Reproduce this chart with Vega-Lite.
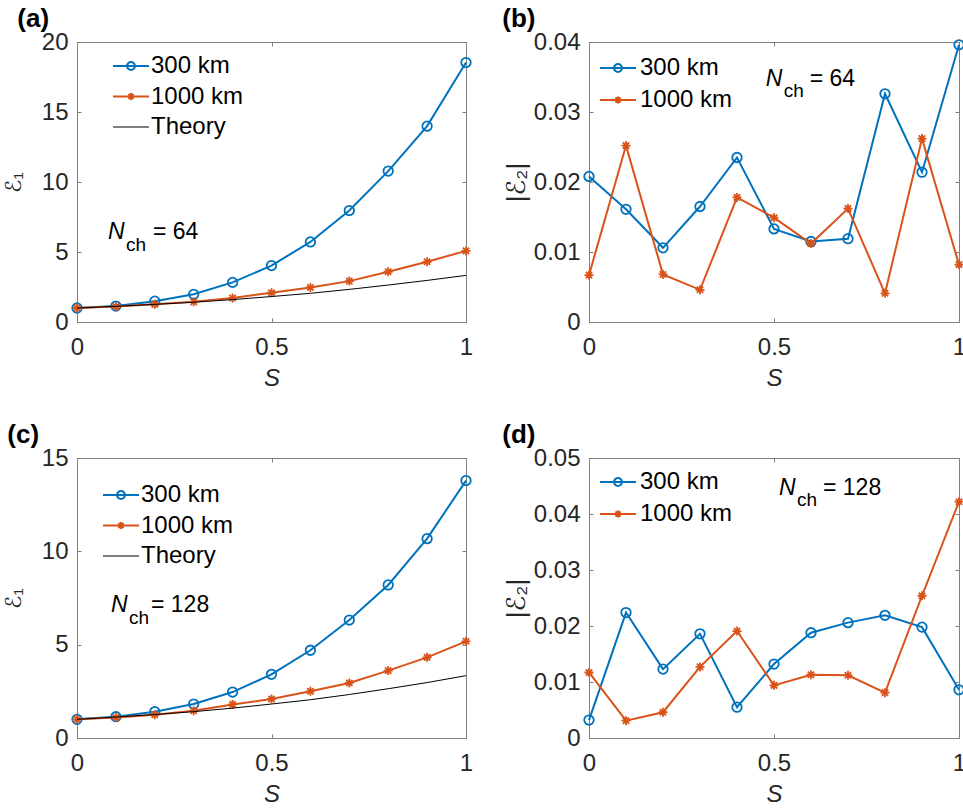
{
  "$schema": "https://vega.github.io/schema/vega-lite/v6.json",
  "padding": {"left": 2, "top": 6, "right": 0, "bottom": 0},
  "background": "white",
  "datasets": {
    "a": [
      {"S": 0, "v": 1.0, "s": "300 km"}, {"S": 0.1, "v": 1.14, "s": "300 km"}, {"S": 0.2, "v": 1.49, "s": "300 km"}, {"S": 0.3, "v": 1.98, "s": "300 km"}, {"S": 0.4, "v": 2.83, "s": "300 km"}, {"S": 0.5, "v": 4.03, "s": "300 km"}, {"S": 0.6, "v": 5.72, "s": "300 km"}, {"S": 0.7, "v": 7.96, "s": "300 km"}, {"S": 0.8, "v": 10.78, "s": "300 km"}, {"S": 0.9, "v": 13.99, "s": "300 km"}, {"S": 1.0, "v": 18.53, "s": "300 km"},
      {"S": 0, "v": 1.0, "s": "1000 km"}, {"S": 0.1, "v": 1.1, "s": "1000 km"}, {"S": 0.2, "v": 1.26, "s": "1000 km"}, {"S": 0.3, "v": 1.44, "s": "1000 km"}, {"S": 0.4, "v": 1.72, "s": "1000 km"}, {"S": 0.5, "v": 2.09, "s": "1000 km"}, {"S": 0.6, "v": 2.47, "s": "1000 km"}, {"S": 0.7, "v": 2.92, "s": "1000 km"}, {"S": 0.8, "v": 3.59, "s": "1000 km"}, {"S": 0.9, "v": 4.3, "s": "1000 km"}, {"S": 1.0, "v": 5.08, "s": "1000 km"},
      {"S": 0, "v": 1.0, "s": "Theory"}, {"S": 0.1, "v": 1.12, "s": "Theory"}, {"S": 0.2, "v": 1.26, "s": "Theory"}, {"S": 0.3, "v": 1.41, "s": "Theory"}, {"S": 0.4, "v": 1.6, "s": "Theory"}, {"S": 0.5, "v": 1.82, "s": "Theory"}, {"S": 0.6, "v": 2.05, "s": "Theory"}, {"S": 0.7, "v": 2.33, "s": "Theory"}, {"S": 0.8, "v": 2.64, "s": "Theory"}, {"S": 0.9, "v": 2.97, "s": "Theory"}, {"S": 1.0, "v": 3.33, "s": "Theory"}
    ],
    "b": [
      {"S": 0, "v": 0.0208, "s": "300 km"}, {"S": 0.1, "v": 0.0161, "s": "300 km"}, {"S": 0.2, "v": 0.0106, "s": "300 km"}, {"S": 0.3, "v": 0.0165, "s": "300 km"}, {"S": 0.4, "v": 0.0235, "s": "300 km"}, {"S": 0.5, "v": 0.0133, "s": "300 km"}, {"S": 0.6, "v": 0.0115, "s": "300 km"}, {"S": 0.7, "v": 0.0119, "s": "300 km"}, {"S": 0.8, "v": 0.0326, "s": "300 km"}, {"S": 0.9, "v": 0.0214, "s": "300 km"}, {"S": 1.0, "v": 0.0396, "s": "300 km"},
      {"S": 0, "v": 0.0067, "s": "1000 km"}, {"S": 0.1, "v": 0.0252, "s": "1000 km"}, {"S": 0.2, "v": 0.0068, "s": "1000 km"}, {"S": 0.3, "v": 0.0046, "s": "1000 km"}, {"S": 0.4, "v": 0.0178, "s": "1000 km"}, {"S": 0.5, "v": 0.0149, "s": "1000 km"}, {"S": 0.6, "v": 0.0112, "s": "1000 km"}, {"S": 0.7, "v": 0.0162, "s": "1000 km"}, {"S": 0.8, "v": 0.0041, "s": "1000 km"}, {"S": 0.9, "v": 0.0262, "s": "1000 km"}, {"S": 1.0, "v": 0.0082, "s": "1000 km"}
    ],
    "c": [
      {"S": 0, "v": 1.0, "s": "300 km"}, {"S": 0.1, "v": 1.14, "s": "300 km"}, {"S": 0.2, "v": 1.41, "s": "300 km"}, {"S": 0.3, "v": 1.82, "s": "300 km"}, {"S": 0.4, "v": 2.46, "s": "300 km"}, {"S": 0.5, "v": 3.41, "s": "300 km"}, {"S": 0.6, "v": 4.7, "s": "300 km"}, {"S": 0.7, "v": 6.32, "s": "300 km"}, {"S": 0.8, "v": 8.2, "s": "300 km"}, {"S": 0.9, "v": 10.68, "s": "300 km"}, {"S": 1.0, "v": 13.79, "s": "300 km"},
      {"S": 0, "v": 1.0, "s": "1000 km"}, {"S": 0.1, "v": 1.1, "s": "1000 km"}, {"S": 0.2, "v": 1.25, "s": "1000 km"}, {"S": 0.3, "v": 1.46, "s": "1000 km"}, {"S": 0.4, "v": 1.8, "s": "1000 km"}, {"S": 0.5, "v": 2.09, "s": "1000 km"}, {"S": 0.6, "v": 2.5, "s": "1000 km"}, {"S": 0.7, "v": 2.95, "s": "1000 km"}, {"S": 0.8, "v": 3.61, "s": "1000 km"}, {"S": 0.9, "v": 4.32, "s": "1000 km"}, {"S": 1.0, "v": 5.18, "s": "1000 km"},
      {"S": 0, "v": 1.0, "s": "Theory"}, {"S": 0.1, "v": 1.12, "s": "Theory"}, {"S": 0.2, "v": 1.26, "s": "Theory"}, {"S": 0.3, "v": 1.41, "s": "Theory"}, {"S": 0.4, "v": 1.6, "s": "Theory"}, {"S": 0.5, "v": 1.82, "s": "Theory"}, {"S": 0.6, "v": 2.05, "s": "Theory"}, {"S": 0.7, "v": 2.33, "s": "Theory"}, {"S": 0.8, "v": 2.64, "s": "Theory"}, {"S": 0.9, "v": 2.97, "s": "Theory"}, {"S": 1.0, "v": 3.34, "s": "Theory"}
    ],
    "d": [
      {"S": 0, "v": 0.0032, "s": "300 km"}, {"S": 0.1, "v": 0.0224, "s": "300 km"}, {"S": 0.2, "v": 0.0123, "s": "300 km"}, {"S": 0.3, "v": 0.0186, "s": "300 km"}, {"S": 0.4, "v": 0.0055, "s": "300 km"}, {"S": 0.5, "v": 0.0132, "s": "300 km"}, {"S": 0.6, "v": 0.0188, "s": "300 km"}, {"S": 0.7, "v": 0.0206, "s": "300 km"}, {"S": 0.8, "v": 0.0219, "s": "300 km"}, {"S": 0.9, "v": 0.0198, "s": "300 km"}, {"S": 1.0, "v": 0.0086, "s": "300 km"},
      {"S": 0, "v": 0.0117, "s": "1000 km"}, {"S": 0.1, "v": 0.0031, "s": "1000 km"}, {"S": 0.2, "v": 0.0046, "s": "1000 km"}, {"S": 0.3, "v": 0.0127, "s": "1000 km"}, {"S": 0.4, "v": 0.0191, "s": "1000 km"}, {"S": 0.5, "v": 0.0094, "s": "1000 km"}, {"S": 0.6, "v": 0.0113, "s": "1000 km"}, {"S": 0.7, "v": 0.0112, "s": "1000 km"}, {"S": 0.8, "v": 0.0081, "s": "1000 km"}, {"S": 0.9, "v": 0.0254, "s": "1000 km"}, {"S": 1.0, "v": 0.0422, "s": "1000 km"}
    ]
  },
  "columns": 2,
  "spacing": {"column": 27, "row": 32},
  "resolve": {"scale": {"color": "independent"}, "legend": {"color": "independent"}},
  "concat": [
    {
      "width": 389, "height": 280,
      "title": {"text": "(a)", "dx": 15},
      "data": {"name": "a"},
      "resolve": {"axis": {"x": "independent", "y": "independent"}},
      "layer": [
        {"transform": [{"filter": "datum.s == '300 km'"}],
         "mark": {"type": "line", "strokeWidth": 2},
         "encoding": {
           "x": {"field": "S", "type": "quantitative", "scale": {"domain": [0, 1], "nice": false}, "axis": {"orient": "bottom", "values": [0, 0.5, 1], "format": "~g", "title": "S"}},
           "y": {"field": "v", "type": "quantitative", "scale": {"domain": [0, 20], "nice": false}, "axis": {"orient": "left", "values": [0, 5, 10, 15, 20], "format": "~g", "title": "ℰ₁", "titleFontSize": 22, "titlePadding": 16}},
           "color": {"field": "s", "type": "nominal", "scale": {"domain": ["300 km", "1000 km", "Theory"], "range": ["#0072BD", "#D95319", "#000000"]},
             "legend": {"legendX": 42, "legendY": 12, "labelOffset": 8, "rowPadding": 6.5,
               "encode": {"symbols": {"update": {
                 "shape": {"signal": "datum.value == '300 km' ? 'M-1,0H1M0.22,0A0.22,0.22,0,1,1,-0.22,0A0.22,0.22,0,1,1,0.22,0' : datum.value == '1000 km' ? 'M-1,0H1M-0.2,0H0.2M0,-0.2V0.2M-0.14,-0.14L0.14,0.14M-0.14,0.14L0.14,-0.14' : 'M-1,0H1'"},
                 "strokeWidth": {"signal": "datum.value == 'Theory' ? 1 : 2"},
                 "fill": {"value": "transparent"}, "opacity": {"value": 1}}}}}}
         }},
        {"transform": [{"filter": "datum.s == '300 km'"}],
         "mark": {"type": "point", "shape": "circle", "size": 90, "strokeWidth": 1.8, "filled": false, "opacity": 1},
         "encoding": {"x": {"field": "S", "type": "quantitative", "axis": null}, "y": {"field": "v", "type": "quantitative", "axis": null}, "color": {"field": "s", "type": "nominal", "legend": null}}},
        {"transform": [{"filter": "datum.s == '1000 km'"}],
         "mark": {"type": "line", "strokeWidth": 2},
         "encoding": {"x": {"field": "S", "type": "quantitative", "axis": null}, "y": {"field": "v", "type": "quantitative", "axis": null}, "color": {"field": "s", "type": "nominal", "legend": null}}},
        {"transform": [{"filter": "datum.s == '1000 km'"}],
         "mark": {"type": "point", "shape": "M-1,0H1M0,-1V1M-0.7,-0.7L0.7,0.7M-0.7,0.7L0.7,-0.7", "size": 81, "strokeWidth": 1.8, "filled": false, "opacity": 1},
         "encoding": {"x": {"field": "S", "type": "quantitative", "axis": null}, "y": {"field": "v", "type": "quantitative", "axis": null}, "color": {"field": "s", "type": "nominal", "legend": null}}},
        {"transform": [{"filter": "datum.s == 'Theory'"}],
         "mark": {"type": "line", "strokeWidth": 1},
         "encoding": {
           "x": {"field": "S", "type": "quantitative", "axis": {"orient": "top", "values": [0, 0.5, 1], "labels": false, "title": null}},
           "y": {"field": "v", "type": "quantitative", "axis": {"orient": "right", "values": [0, 5, 10, 15, 20], "labels": false, "title": null}},
           "color": {"field": "s", "type": "nominal", "legend": null}}},
        {"data": {"values": [{}]},
         "mark": {"type": "text", "text": "N", "fontStyle": "italic", "fontSize": 23, "align": "left", "baseline": "alphabetic"},
         "encoding": {"x": {"datum": 0.0797, "type": "quantitative", "axis": null}, "y": {"datum": 5.93, "type": "quantitative", "axis": null}}},
        {"data": {"values": [{}]},
         "mark": {"type": "text", "text": "ch", "fontSize": 19, "align": "left", "baseline": "alphabetic", "dx": 18, "dy": 12},
         "encoding": {"x": {"datum": 0.0797, "type": "quantitative", "axis": null}, "y": {"datum": 5.93, "type": "quantitative", "axis": null}}},
        {"data": {"values": [{}]},
         "mark": {"type": "text", "text": "= 64", "fontSize": 23, "align": "left", "baseline": "alphabetic", "dx": 45},
         "encoding": {"x": {"datum": 0.0797, "type": "quantitative", "axis": null}, "y": {"datum": 5.93, "type": "quantitative", "axis": null}}}
      ]
    },
    {
      "width": 370, "height": 280,
      "title": {"text": "(b)", "dx": -1},
      "data": {"name": "b"},
      "resolve": {"axis": {"x": "independent", "y": "independent"}},
      "layer": [
        {"transform": [{"filter": "datum.s == '300 km'"}],
         "mark": {"type": "line", "strokeWidth": 2},
         "encoding": {
           "x": {"field": "S", "type": "quantitative", "scale": {"domain": [0, 1], "nice": false}, "axis": {"orient": "bottom", "values": [0, 0.5, 1], "format": "~g", "title": "S"}},
           "y": {"field": "v", "type": "quantitative", "scale": {"domain": [0, 0.04], "nice": false}, "axis": {"orient": "left", "values": [0, 0.01, 0.02, 0.03, 0.04], "format": "~g", "title": "|ℰ₂|", "titleFontSize": 26, "titlePadding": 4}},
           "color": {"field": "s", "type": "nominal", "scale": {"domain": ["300 km", "1000 km"], "range": ["#0072BD", "#D95319"]},
             "legend": {"legendX": 10, "legendY": 7, "labelOffset": 3, "rowPadding": 1,
               "encode": {"symbols": {"update": {
                 "shape": {"signal": "datum.value == '300 km' ? 'M-1,0H1M0.22,0A0.22,0.22,0,1,1,-0.22,0A0.22,0.22,0,1,1,0.22,0' : datum.value == '1000 km' ? 'M-1,0H1M-0.2,0H0.2M0,-0.2V0.2M-0.14,-0.14L0.14,0.14M-0.14,0.14L0.14,-0.14' : 'M-1,0H1'"},
                 "strokeWidth": {"value": 2},
                 "fill": {"value": "transparent"}, "opacity": {"value": 1}}}}}}
         }},
        {"transform": [{"filter": "datum.s == '300 km'"}],
         "mark": {"type": "point", "shape": "circle", "size": 90, "strokeWidth": 1.8, "filled": false, "opacity": 1},
         "encoding": {"x": {"field": "S", "type": "quantitative", "axis": null}, "y": {"field": "v", "type": "quantitative", "axis": null}, "color": {"field": "s", "type": "nominal", "legend": null}}},
        {"transform": [{"filter": "datum.s == '1000 km'"}],
         "mark": {"type": "line", "strokeWidth": 2},
         "encoding": {"x": {"field": "S", "type": "quantitative", "axis": null}, "y": {"field": "v", "type": "quantitative", "axis": null}, "color": {"field": "s", "type": "nominal", "legend": null}}},
        {"transform": [{"filter": "datum.s == '1000 km'"}],
         "mark": {"type": "point", "shape": "M-1,0H1M0,-1V1M-0.7,-0.7L0.7,0.7M-0.7,0.7L0.7,-0.7", "size": 81, "strokeWidth": 1.8, "filled": false, "opacity": 1},
         "encoding": {
           "x": {"field": "S", "type": "quantitative", "axis": {"orient": "top", "values": [0, 0.5, 1], "labels": false, "title": null}},
           "y": {"field": "v", "type": "quantitative", "axis": {"orient": "right", "values": [0, 0.01, 0.02, 0.03, 0.04], "labels": false, "title": null}},
           "color": {"field": "s", "type": "nominal", "legend": null}}},
        {"data": {"values": [{}]},
         "mark": {"type": "text", "text": "N", "fontStyle": "italic", "fontSize": 23, "align": "left", "baseline": "alphabetic"},
         "encoding": {"x": {"datum": 0.4776, "type": "quantitative", "axis": null}, "y": {"datum": 0.0337, "type": "quantitative", "axis": null}}},
        {"data": {"values": [{}]},
         "mark": {"type": "text", "text": "ch", "fontSize": 19, "align": "left", "baseline": "alphabetic", "dx": 18, "dy": 11},
         "encoding": {"x": {"datum": 0.4776, "type": "quantitative", "axis": null}, "y": {"datum": 0.0337, "type": "quantitative", "axis": null}}},
        {"data": {"values": [{}]},
         "mark": {"type": "text", "text": "= 64", "fontSize": 23, "align": "left", "baseline": "alphabetic", "dx": 44},
         "encoding": {"x": {"datum": 0.4776, "type": "quantitative", "axis": null}, "y": {"datum": 0.0337, "type": "quantitative", "axis": null}}}
      ]
    },
    {
      "width": 389, "height": 280,
      "title": {"text": "(c)", "dx": 5},
      "data": {"name": "c"},
      "resolve": {"axis": {"x": "independent", "y": "independent"}},
      "layer": [
        {"transform": [{"filter": "datum.s == '300 km'"}],
         "mark": {"type": "line", "strokeWidth": 2},
         "encoding": {
           "x": {"field": "S", "type": "quantitative", "scale": {"domain": [0, 1], "nice": false}, "axis": {"orient": "bottom", "values": [0, 0.5, 1], "format": "~g", "title": "S"}},
           "y": {"field": "v", "type": "quantitative", "scale": {"domain": [0, 15], "nice": false}, "axis": {"orient": "left", "values": [0, 5, 10, 15], "format": "~g", "title": "ℰ₁", "titleFontSize": 22, "titlePadding": 16}},
           "color": {"field": "s", "type": "nominal", "scale": {"domain": ["300 km", "1000 km", "Theory"], "range": ["#0072BD", "#D95319", "#000000"]},
             "legend": {"legendX": 32, "legendY": 25, "labelOffset": 8, "rowPadding": 6.5,
               "encode": {"symbols": {"update": {
                 "shape": {"signal": "datum.value == '300 km' ? 'M-1,0H1M0.22,0A0.22,0.22,0,1,1,-0.22,0A0.22,0.22,0,1,1,0.22,0' : datum.value == '1000 km' ? 'M-1,0H1M-0.2,0H0.2M0,-0.2V0.2M-0.14,-0.14L0.14,0.14M-0.14,0.14L0.14,-0.14' : 'M-1,0H1'"},
                 "strokeWidth": {"signal": "datum.value == 'Theory' ? 1 : 2"},
                 "fill": {"value": "transparent"}, "opacity": {"value": 1}}}}}}
         }},
        {"transform": [{"filter": "datum.s == '300 km'"}],
         "mark": {"type": "point", "shape": "circle", "size": 90, "strokeWidth": 1.8, "filled": false, "opacity": 1},
         "encoding": {"x": {"field": "S", "type": "quantitative", "axis": null}, "y": {"field": "v", "type": "quantitative", "axis": null}, "color": {"field": "s", "type": "nominal", "legend": null}}},
        {"transform": [{"filter": "datum.s == '1000 km'"}],
         "mark": {"type": "line", "strokeWidth": 2},
         "encoding": {"x": {"field": "S", "type": "quantitative", "axis": null}, "y": {"field": "v", "type": "quantitative", "axis": null}, "color": {"field": "s", "type": "nominal", "legend": null}}},
        {"transform": [{"filter": "datum.s == '1000 km'"}],
         "mark": {"type": "point", "shape": "M-1,0H1M0,-1V1M-0.7,-0.7L0.7,0.7M-0.7,0.7L0.7,-0.7", "size": 81, "strokeWidth": 1.8, "filled": false, "opacity": 1},
         "encoding": {"x": {"field": "S", "type": "quantitative", "axis": null}, "y": {"field": "v", "type": "quantitative", "axis": null}, "color": {"field": "s", "type": "nominal", "legend": null}}},
        {"transform": [{"filter": "datum.s == 'Theory'"}],
         "mark": {"type": "line", "strokeWidth": 1},
         "encoding": {
           "x": {"field": "S", "type": "quantitative", "axis": {"orient": "top", "values": [0, 0.5, 1], "labels": false, "title": null}},
           "y": {"field": "v", "type": "quantitative", "axis": {"orient": "right", "values": [0, 5, 10, 15], "labels": false, "title": null}},
           "color": {"field": "s", "type": "nominal", "legend": null}}},
        {"data": {"values": [{}]},
         "mark": {"type": "text", "text": "N", "fontStyle": "italic", "fontSize": 23, "align": "left", "baseline": "alphabetic"},
         "encoding": {"x": {"datum": 0.0874, "type": "quantitative", "axis": null}, "y": {"datum": 6.77, "type": "quantitative", "axis": null}}},
        {"data": {"values": [{}]},
         "mark": {"type": "text", "text": "ch", "fontSize": 19, "align": "left", "baseline": "alphabetic", "dx": 18, "dy": 12},
         "encoding": {"x": {"datum": 0.0874, "type": "quantitative", "axis": null}, "y": {"datum": 6.77, "type": "quantitative", "axis": null}}},
        {"data": {"values": [{}]},
         "mark": {"type": "text", "text": "= 128", "fontSize": 23, "align": "left", "baseline": "alphabetic", "dx": 40},
         "encoding": {"x": {"datum": 0.0874, "type": "quantitative", "axis": null}, "y": {"datum": 6.77, "type": "quantitative", "axis": null}}}
      ]
    },
    {
      "width": 370, "height": 280,
      "title": {"text": "(d)", "dx": -1},
      "data": {"name": "d"},
      "resolve": {"axis": {"x": "independent", "y": "independent"}},
      "layer": [
        {"transform": [{"filter": "datum.s == '300 km'"}],
         "mark": {"type": "line", "strokeWidth": 2},
         "encoding": {
           "x": {"field": "S", "type": "quantitative", "scale": {"domain": [0, 1], "nice": false}, "axis": {"orient": "bottom", "values": [0, 0.5, 1], "format": "~g", "title": "S"}},
           "y": {"field": "v", "type": "quantitative", "scale": {"domain": [0, 0.05], "nice": false}, "axis": {"orient": "left", "values": [0, 0.01, 0.02, 0.03, 0.04, 0.05], "format": "~g", "title": "|ℰ₂|", "titleFontSize": 26, "titlePadding": 4}},
           "color": {"field": "s", "type": "nominal", "scale": {"domain": ["300 km", "1000 km"], "range": ["#0072BD", "#D95319"]},
             "legend": {"legendX": 10, "legendY": 5, "labelOffset": 3, "rowPadding": 1,
               "encode": {"symbols": {"update": {
                 "shape": {"signal": "datum.value == '300 km' ? 'M-1,0H1M0.22,0A0.22,0.22,0,1,1,-0.22,0A0.22,0.22,0,1,1,0.22,0' : datum.value == '1000 km' ? 'M-1,0H1M-0.2,0H0.2M0,-0.2V0.2M-0.14,-0.14L0.14,0.14M-0.14,0.14L0.14,-0.14' : 'M-1,0H1'"},
                 "strokeWidth": {"value": 2},
                 "fill": {"value": "transparent"}, "opacity": {"value": 1}}}}}}
         }},
        {"transform": [{"filter": "datum.s == '300 km'"}],
         "mark": {"type": "point", "shape": "circle", "size": 90, "strokeWidth": 1.8, "filled": false, "opacity": 1},
         "encoding": {"x": {"field": "S", "type": "quantitative", "axis": null}, "y": {"field": "v", "type": "quantitative", "axis": null}, "color": {"field": "s", "type": "nominal", "legend": null}}},
        {"transform": [{"filter": "datum.s == '1000 km'"}],
         "mark": {"type": "line", "strokeWidth": 2},
         "encoding": {"x": {"field": "S", "type": "quantitative", "axis": null}, "y": {"field": "v", "type": "quantitative", "axis": null}, "color": {"field": "s", "type": "nominal", "legend": null}}},
        {"transform": [{"filter": "datum.s == '1000 km'"}],
         "mark": {"type": "point", "shape": "M-1,0H1M0,-1V1M-0.7,-0.7L0.7,0.7M-0.7,0.7L0.7,-0.7", "size": 81, "strokeWidth": 1.8, "filled": false, "opacity": 1},
         "encoding": {
           "x": {"field": "S", "type": "quantitative", "axis": {"orient": "top", "values": [0, 0.5, 1], "labels": false, "title": null}},
           "y": {"field": "v", "type": "quantitative", "axis": {"orient": "right", "values": [0, 0.01, 0.02, 0.03, 0.04, 0.05], "labels": false, "title": null}},
           "color": {"field": "s", "type": "nominal", "legend": null}}},
        {"data": {"values": [{}]},
         "mark": {"type": "text", "text": "N", "fontStyle": "italic", "fontSize": 23, "align": "left", "baseline": "alphabetic"},
         "encoding": {"x": {"datum": 0.5135, "type": "quantitative", "axis": null}, "y": {"datum": 0.0434, "type": "quantitative", "axis": null}}},
        {"data": {"values": [{}]},
         "mark": {"type": "text", "text": "ch", "fontSize": 19, "align": "left", "baseline": "alphabetic", "dx": 18, "dy": 11},
         "encoding": {"x": {"datum": 0.5135, "type": "quantitative", "axis": null}, "y": {"datum": 0.0434, "type": "quantitative", "axis": null}}},
        {"data": {"values": [{}]},
         "mark": {"type": "text", "text": "= 128", "fontSize": 23, "align": "left", "baseline": "alphabetic", "dx": 44},
         "encoding": {"x": {"datum": 0.5135, "type": "quantitative", "axis": null}, "y": {"datum": 0.0434, "type": "quantitative", "axis": null}}}
      ]
    }
  ],
  "config": {
    "font": "Liberation Sans",
    "view": {"stroke": null},
    "text": {"font": "Liberation Sans", "color": "#000000"},
    "title": {"anchor": "start", "frame": "bounds", "font": "Liberation Sans", "fontSize": 26, "fontWeight": "bold", "color": "#000000", "offset": -2},
    "axis": {
      "grid": false,
      "domainColor": "#808080",
      "domainWidth": 1,
      "tickColor": "#808080",
      "tickSize": -4,
      "tickWidth": 1,
      "labelFont": "Liberation Sans",
      "labelFontSize": 24,
      "labelColor": "#262626",
      "labelOverlap": false,
      "labelFlush": false,
      "titleFont": "Liberation Sans, DejaVu Sans",
      "titleFontSize": 24,
      "titleFontWeight": "normal",
      "titleColor": "#262626"
    },
    "axisX": {"labelPadding": 17, "titleFontStyle": "italic", "titlePadding": 7},
    "axisY": {"labelPadding": 13},
    "legend": {
      "orient": "none",
      "title": null,
      "padding": 0,
      "labelFont": "Liberation Sans",
      "labelFontSize": 24,
      "labelColor": "#000000",
      "symbolSize": 1296,
      "symbolStrokeWidth": 2,
      "symbolType": "M-1,0H1",
      "symbolFillColor": "transparent"
    }
  }
}
